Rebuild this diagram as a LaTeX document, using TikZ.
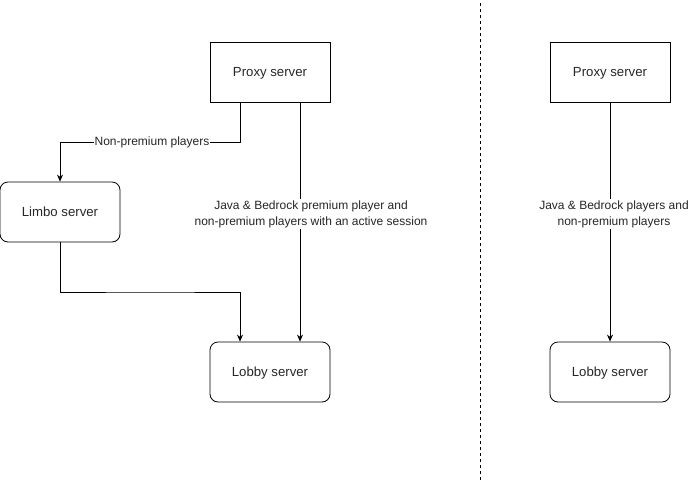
\documentclass[tikz,border=0pt]{standalone}
\usepackage{fontspec}
\setmainfont{Liberation Sans}
\usetikzlibrary{arrows.meta,positioning}
\begin{document}
\begin{tikzpicture}[x=1pt,y=-1pt,
  box/.style={draw,line width=0.8pt,minimum width=120pt,minimum height=60pt,inner sep=0pt,font=\fontsize{13.2}{15}\selectfont,text=black!85,text depth=-1.5pt},
  rbox/.style={box,rounded corners=8pt},
  conn/.style={line width=0.8pt,-{Stealth[length=7pt,width=6pt]}},
  lbl/.style={fill=white,inner sep=1pt,font=\fontsize{12}{16}\selectfont,align=center,text=black!85}]
\useasboundingbox (0,0) rectangle (690,482);
\node[box] (proxyL) at (270,72) {Proxy server};
\node[rbox] (limbo) at (60,212) {Limbo server};
\node[rbox] (lobbyL) at (270,372) {Lobby server};
\node[box] (proxyR) at (610,72) {Proxy server};
\node[rbox] (lobbyR) at (610,372) {Lobby server};
\coordinate (dtop) at (480,3);
\coordinate (dbot) at (480,482);
\draw[dashed,line width=0.8pt] (dtop) -- (dbot);
\draw[conn] (proxyL.south -| 240,0) |- (150,142) -| (limbo.north);
\node[lbl] (l1) at (152,142) {Non-premium players};
\draw[conn] (proxyL.south -| 300,0) -- (lobbyL.north -| 300,0);
\node[lbl] (l2) at (311,214) {Java \& Bedrock premium player and\\non-premium players with an active session};
\draw[conn] (limbo.south) |- (150,292) -| (lobbyL.north -| 240,0);
\draw[conn] (proxyR.south) -- (lobbyR.north);
\node[lbl] (l3) at (614,214) {Java \& Bedrock players and\\non-premium players};
\end{tikzpicture}
\end{document}
